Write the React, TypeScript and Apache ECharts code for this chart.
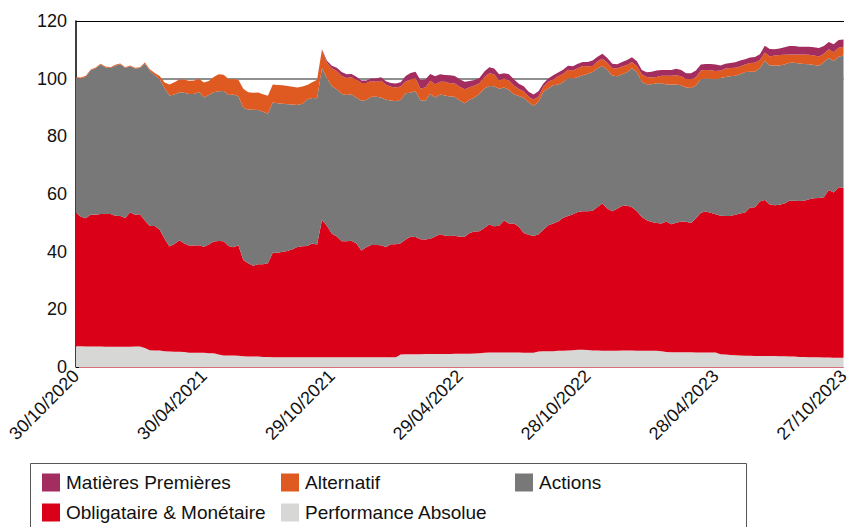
import React, { useEffect, useRef } from "react";
import * as echarts from "echarts";

// Weekly dates from 30/10/2020 to 27/10/2023
const START_DATE = Date.UTC(2020, 9, 30);
const WEEKS = 157;
const pad = (n: number) => (n < 10 ? "0" + n : "" + n);
const dates: string[] = [];
for (let i = 0; i < WEEKS; i++) {
  const d = new Date(START_DATE + i * 7 * 86400000);
  dates.push(pad(d.getUTCDate()) + "/" + pad(d.getUTCMonth() + 1) + "/" + d.getUTCFullYear());
}

const seriesNames = [
  "Performance Absolue",
  "Obligataire & Monétaire",
  "Actions",
  "Alternatif",
  "Matières Premières",
];
const legendOrder = [
  "Matières Premières",
  "Alternatif",
  "Actions",
  "Obligataire & Monétaire",
  "Performance Absolue",
];
const yTicks = [0, 20, 40, 60, 80, 100, 120];
const referenceLevel = 100;

const perfAbsolue = [
  7.2, 7.2, 7.1, 7.1, 7.1, 7.1, 7.0, 7.0, 7.0, 7.0,
  7.0, 7.0, 7.1, 7.1, 6.6, 5.8, 5.7, 5.7, 5.5, 5.4,
  5.3, 5.3, 5.2, 4.9, 4.9, 4.9, 4.9, 4.8, 4.8, 4.3,
  4.0, 4.0, 4.0, 3.9, 3.7, 3.6, 3.6, 3.6, 3.5, 3.5,
  3.4, 3.4, 3.4, 3.4, 3.4, 3.4, 3.4, 3.4, 3.4, 3.4,
  3.4, 3.4, 3.4, 3.4, 3.4, 3.4, 3.4, 3.4, 3.4, 3.4,
  3.4, 3.4, 3.4, 3.4, 3.4, 3.4, 4.3, 4.4, 4.4, 4.4,
  4.4, 4.5, 4.5, 4.5, 4.5, 4.5, 4.5, 4.6, 4.6, 4.6,
  4.6, 4.7, 4.8, 4.9, 5.0, 5.0, 5.0, 5.0, 5.0, 5.0,
  5.0, 4.9, 4.9, 4.9, 5.4, 5.5, 5.5, 5.5, 5.6, 5.6,
  5.7, 5.8, 6.0, 6.0, 5.9, 5.7, 5.7, 5.6, 5.6, 5.6,
  5.6, 5.7, 5.7, 5.7, 5.6, 5.6, 5.6, 5.6, 5.6, 5.5,
  5.2, 5.1, 5.1, 5.1, 5.1, 5.1, 5.0, 5.0, 5.0, 5.0,
  5.0, 4.4, 4.3, 4.2, 4.1, 4.0, 3.9, 3.9, 3.8, 3.8,
  3.8, 3.8, 3.8, 3.7, 3.7, 3.6, 3.6, 3.5, 3.5, 3.4,
  3.4, 3.4, 3.3, 3.3, 3.2, 3.2, 3.2,
];

const obligataire = [
  46.3, 44.9, 44.5, 45.8, 45.7, 46.0, 46.1, 46.1, 45.5, 45.4,
  44.7, 46.7, 45.7, 45.9, 44.2, 43.1, 43.2, 42.0, 39.0, 36.4,
  37.4, 38.7, 37.6, 37.2, 37.2, 37.3, 36.8, 37.7, 38.7, 39.4,
  39.6, 38.0, 37.5, 38.3, 33.4, 32.4, 31.5, 32.0, 32.1, 32.5,
  36.2, 36.2, 36.6, 36.8, 37.4, 38.2, 38.5, 38.6, 39.4, 39.1,
  47.6, 45.6, 42.8, 41.9, 40.2, 40.2, 40.4, 39.4, 37.0, 38.1,
  38.9, 38.9, 38.8, 38.2, 39.2, 39.2, 38.6, 39.8, 40.8, 40.7,
  39.9, 39.7, 40.0, 40.8, 41.5, 41.0, 40.9, 40.9, 40.6, 40.6,
  41.9, 42.3, 42.3, 43.3, 44.4, 43.8, 44.0, 45.8, 44.8, 44.8,
  43.6, 41.6, 41.0, 40.5, 40.6, 42.1, 43.7, 44.3, 44.9, 46.2,
  46.7, 47.2, 47.8, 48.0, 48.1, 48.5, 49.8, 51.1, 49.4, 48.4,
  49.3, 50.1, 50.3, 49.7, 48.4, 46.4, 45.3, 44.7, 44.3, 44.3,
  45.3, 44.4, 44.9, 45.4, 45.3, 44.8, 46.6, 48.5, 48.9, 48.5,
  48.0, 48.1, 48.1, 48.2, 48.7, 49.2, 49.7, 51.4, 51.6, 53.6,
  54.1, 52.6, 52.3, 52.6, 53.0, 54.1, 54.1, 54.1, 54.2, 54.8,
  55.1, 55.2, 55.6, 58.1, 57.3, 59.1, 59.0,
];

const actions = [
  46.7, 48.0, 49.1, 50.0, 50.8, 51.8, 50.8, 50.6, 52.0, 52.6,
  52.0, 50.6, 50.7, 50.7, 54.4, 53.9, 52.3, 52.1, 52.2, 52.4,
  51.8, 51.3, 52.3, 52.6, 52.6, 53.2, 51.8, 51.8, 51.8, 51.9,
  52.1, 52.3, 53.0, 51.7, 52.8, 53.3, 54.1, 53.5, 52.9, 51.8,
  52.1, 51.9, 51.3, 50.9, 50.2, 49.3, 49.4, 50.8, 50.5, 50.7,
  52.6, 51.2, 51.2, 51.0, 51.1, 50.7, 50.8, 50.6, 51.9, 51.1,
  51.4, 51.4, 51.3, 51.1, 49.8, 49.6, 49.8, 50.7, 49.9, 50.6,
  48.2, 48.1, 50.2, 48.2, 48.5, 48.7, 48.4, 48.2, 47.2, 46.3,
  46.2, 46.5, 47.7, 48.4, 48.1, 48.6, 47.5, 46.1, 46.3, 44.8,
  45.4, 46.9, 45.9, 45.2, 45.9, 47.9, 47.4, 47.9, 47.5, 47.0,
  47.8, 47.1, 46.8, 47.2, 47.6, 48.1, 48.1, 47.7, 48.0, 47.1,
  45.9, 45.7, 46.2, 48.2, 48.2, 46.9, 47.2, 47.8, 48.5, 48.6,
  47.5, 48.5, 48.0, 47.2, 46.5, 46.9, 46.0, 46.3, 46.2, 46.5,
  46.8, 47.7, 48.2, 48.4, 48.2, 48.3, 48.7, 47.1, 47.0, 46.3,
  48.3, 48.2, 48.5, 48.3, 48.2, 47.8, 47.8, 47.7, 47.4, 46.8,
  46.2, 45.9, 46.8, 45.8, 45.6, 45.3, 45.8,
];

const alternatif = [
  0.3, 0.3, 0.3, 0.3, 0.3, 0.3, 0.3, 0.3, 0.3, 0.3,
  0.3, 0.3, 0.3, 0.3, 0.4, 0.5, 0.8, 1.1, 2.0, 3.8,
  4.3, 4.4, 4.5, 4.6, 4.7, 4.6, 5.2, 4.9, 5.3, 5.9,
  5.7, 5.6, 5.3, 5.7, 6.6, 6.0, 5.9, 6.1, 6.1, 6.3,
  6.3, 6.3, 6.4, 6.4, 6.2, 6.0, 6.0, 5.0, 5.5, 6.4,
  6.4, 5.3, 6.2, 6.4, 6.2, 5.9, 5.9, 6.2, 6.2, 5.9,
  5.5, 5.2, 5.8, 5.2, 4.8, 4.7, 4.6, 4.1, 4.6, 4.5,
  4.1, 4.6, 4.6, 4.6, 4.4, 4.7, 4.6, 4.6, 4.8, 4.8,
  4.3, 4.1, 3.6, 4.0, 4.4, 4.1, 2.9, 3.2, 3.3, 3.0,
  2.4, 2.2, 1.9, 2.1, 1.9, 1.7, 2.3, 2.1, 2.8, 2.8,
  2.9, 2.7, 3.0, 3.2, 2.7, 2.1, 2.4, 2.5, 2.5, 2.6,
  2.7, 2.7, 2.5, 2.2, 2.2, 2.6, 2.5, 2.3, 2.2, 2.6,
  3.0, 3.0, 3.2, 3.1, 3.0, 3.0, 2.9, 3.0, 2.9, 2.9,
  2.9, 2.6, 2.9, 2.9, 2.8, 2.7, 2.6, 3.0, 3.1, 2.7,
  2.9, 3.1, 3.4, 3.6, 3.4, 2.9, 2.9, 3.1, 3.3, 3.3,
  3.3, 3.2, 2.9, 3.0, 3.1, 3.1, 3.1,
];

const matieresPremieres = [
  0, 0, 0, 0, 0, 0, 0, 0, 0, 0,
  0, 0, 0, 0, 0, 0, 0, 0, 0, 0,
  0, 0, 0, 0, 0, 0, 0, 0, 0, 0,
  0, 0, 0, 0, 0, 0, 0, 0, 0, 0,
  0, 0, 0, 0, 0, 0, 0, 0, 0, 0,
  0.2, 0.7, 0.9, 1.1, 1.4, 1.3, 1.1, 1.1, 0.9, 0.9,
  0.9, 1.2, 1.2, 1.2, 1.3, 1.4, 1.5, 1.9, 2.3, 2.2,
  2.9, 2.8, 2.3, 2.7, 2.6, 2.4, 2.8, 2.6, 2.6, 2.6,
  2.2, 1.9, 1.8, 1.9, 2.1, 2.0, 2.1, 1.8, 2.1, 2.2,
  1.8, 1.8, 1.8, 1.8, 1.8, 1.1, 1.2, 1.4, 1.3, 1.5,
  1.4, 1.5, 1.6, 1.4, 1.5, 1.9, 1.6, 1.7, 1.7, 1.5,
  1.5, 1.6, 1.8, 1.6, 1.6, 1.5, 1.6, 2.0, 2.2, 2.0,
  2.0, 2.0, 2.2, 2.2, 2.0, 2.1, 2.3, 2.1, 2.1, 2.2,
  2.2, 1.8, 1.7, 1.7, 1.9, 2.1, 1.8, 1.9, 2.0, 2.1,
  2.3, 2.6, 2.2, 2.3, 2.6, 2.9, 2.9, 2.7, 2.7, 2.8,
  2.9, 2.9, 2.7, 2.5, 2.7, 2.7, 2.5,
];

const seriesValues = [perfAbsolue, obligataire, actions, alternatif, matieresPremieres];
const seriesColors = ["#D7D8D5", "#D90017", "#787878", "#DF5A20", "#A32D5E"];

// legend cell layout (3 columns x 2 rows)
const legendColLeft = [42, 281, 515];
const legendRowTop = [473, 503];

const FONT = "'Liberation Sans', Arial, Helvetica, sans-serif";

export default function App() {
  const ref = useRef<HTMLDivElement>(null);

  useEffect(() => {
    if (!ref.current) return;
    const chart = echarts.init(ref.current, undefined, { renderer: "svg" });

    const series: any[] = seriesNames.map((name, k) => {
      const s: any = {
        name,
        type: "line",
        stack: "total",
        data: seriesValues[k],
        showSymbol: false,
        symbol: "none",
        lineStyle: { width: 0 },
        areaStyle: { color: seriesColors[k], opacity: 1 },
        itemStyle: { color: seriesColors[k] },
        emphasis: { disabled: true },
        silent: true,
      };
      if (k === 0) {
        s.markLine = {
          silent: true,
          z: 1,
          symbol: ["none", "none"],
          label: { show: false },
          lineStyle: { color: "#6a6a6a", width: 1.5, type: "solid" },
          data: [{ yAxis: referenceLevel }],
        };
      }
      return s;
    });

    const legends = legendOrder.map((name, idx) => ({
      data: [name],
      left: legendColLeft[idx % 3],
      top: legendRowTop[Math.floor(idx / 3)],
      padding: 0,
      itemWidth: 18,
      itemHeight: 18,
      itemGap: 0,
      icon: "rect",
      selectedMode: false,
      textStyle: { fontSize: 19, color: "#111", fontFamily: FONT, padding: [0, 0, 0, 1] },
    }));

    chart.setOption({
      animation: false,
      backgroundColor: "#ffffff",
      textStyle: { fontFamily: FONT },
      grid: { left: 76, right: 0, top: 21, bottom: 160, containLabel: false },
      xAxis: [
        {
          type: "category",
          data: dates,
          boundaryGap: false,
          axisLine: { show: true, lineStyle: { color: "#d6717b", width: 1 } },
          axisTick: { show: false },
          axisLabel: {
            interval: 25,
            rotate: 45,
            margin: 6,
            fontSize: 18,
            color: "#111",
            fontFamily: FONT,
          },
          splitLine: { show: false },
        },
        {
          type: "category",
          data: dates,
          boundaryGap: false,
          position: "top",
          axisLine: { show: true, lineStyle: { color: "#000", width: 1 } },
          axisTick: { show: false },
          axisLabel: { show: false },
          splitLine: { show: false },
        },
      ],
      yAxis: {
        type: "value",
        min: yTicks[0],
        max: yTicks[yTicks.length - 1],
        interval: yTicks[1] - yTicks[0],
        axisLine: { show: true, lineStyle: { color: "#000", width: 1.5 } },
        axisTick: { show: true, inside: true, length: 3, lineStyle: { color: "#000" } },
        axisLabel: { fontSize: 18, color: "#111", margin: 9, fontFamily: FONT },
        splitLine: { show: false },
      },
      legend: legends,
      graphic: [
        {
          type: "rect",
          silent: true,
          shape: { x: 30.5, y: 463.5, width: 716, height: 80 },
          style: { fill: "none", stroke: "#555", lineWidth: 1 },
        },
      ],
      series,
    });

    return () => chart.dispose();
  }, []);

  return (
    <div
      ref={ref}
      style={{ position: "absolute", left: 0, top: 0, width: 852, height: 527 }}
    />
  );
}
